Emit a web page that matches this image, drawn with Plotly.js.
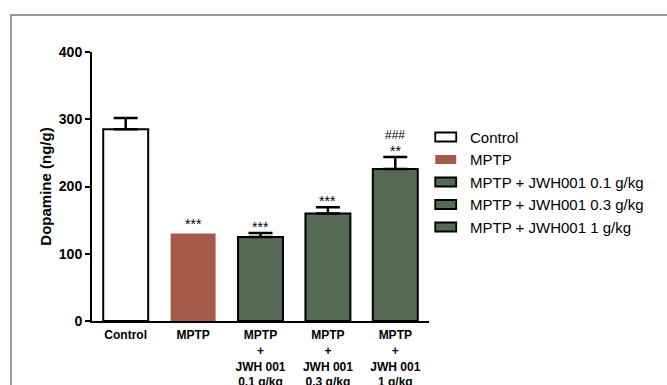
<!DOCTYPE html>
<html>
<head>
<meta charset="utf-8">
<script src="https://cdn.plot.ly/plotly-3.0.1.min.js"></script>
<style>
html,body{margin:0;padding:0;background:#fff;}
#wrap{position:relative;width:667px;height:385px;overflow:hidden;}
#chart{position:absolute;left:0;top:0;width:667px;height:385px;}
#frame{position:absolute;left:10px;top:14px;width:700px;height:400px;border-top:2px solid #9a9a9a;border-left:2px solid #9a9a9a;pointer-events:none;}
</style>
</head>
<body>
<div id="wrap"><div id="chart"></div><div id="frame"></div></div>
<script>
// ---- data ----
const categories = ["Control", "MPTP", "MPTP<br>+<br>JWH 001<br>0.1 g/kg", "MPTP<br>+<br>JWH 001<br>0.3 g/kg", "MPTP<br>+<br>JWH 001<br>1 g/kg"];
const legendNames = ["Control", "MPTP", "MPTP + JWH001 0.1 g/kg", "MPTP + JWH001 0.3 g/kg", "MPTP + JWH001 1 g/kg"];
const dopamine = [285, 130, 125, 160, 226];
const sem = [17, 0, 6, 9, 18];
const sigVsControl = ["", "***", "***", "***", "**"];
const sigVsMPTP = ["", "", "", "", "###"];
const yTicks = [0, 100, 200, 300, 400];

// ---- styles ----
const fills = ["#ffffff", "#a65a48", "#546a55", "#546a55", "#546a55"];
const outlines = [2, 0, 2, 2, 2];

const traces = categories.map((c, i) => ({
  type: "bar",
  x: [c],
  y: [dopamine[i]],
  name: legendNames[i],
  width: 0.667,
  marker: {color: fills[i], line: {color: "#000", width: outlines[i]}},
  error_y: {type: "data", symmetric: false, array: [sem[i]], arrayminus: [0],
            visible: sem[i] > 0, color: "#000", thickness: 2.5, width: 12},
  showlegend: false,
  hoverinfo: "skip"
}));

const annotations = [];
categories.forEach((c, i) => {
  const top = dopamine[i] + sem[i];
  if (sigVsControl[i]) annotations.push({x: c, y: top, xref: "x", yref: "y", text: sigVsControl[i],
    showarrow: false, yanchor: "middle", yshift: sem[i] > 0 ? 6 : 10,
    font: {family: "Liberation Sans, Arial", size: 14, color: "#000"}});
  if (sigVsMPTP[i]) annotations.push({x: c, y: top, xref: "x", yref: "y", text: sigVsMPTP[i],
    showarrow: false, yanchor: "middle", yshift: 22,
    font: {family: "Liberation Sans, Arial", size: 12, color: "#000"}});
});

// custom legend (pixel rows converted to paper coords)
const L = 91.75, W = 337.5, T = 52, H = 269;
const px = v => (v - L) / W;
const py = v => (T + H - v) / H;
const rows = [137, 159.5, 182, 204.5, 227];
const shapes = [];
legendNames.forEach((n, i) => {
  shapes.push({type: "rect", xref: "paper", yref: "paper",
    x0: px(435.5), x1: px(456.5), y0: py(rows[i] - 4.5), y1: py(rows[i] + 4.5),
    fillcolor: fills[i], line: {color: outlines[i] ? "#000" : fills[i], width: outlines[i] ? 1.8 : 0}});
  annotations.push({xref: "paper", yref: "paper", x: px(468), y: py(rows[i]), xanchor: "left", yanchor: "middle",
    text: n, showarrow: false, font: {family: "Liberation Sans, Arial", size: 15, color: "#000"}});
});

const layout = {
  width: 667, height: 385,
  margin: {l: L, r: 667 - L - W, t: T, b: 385 - T - H, pad: 0},
  paper_bgcolor: "rgba(0,0,0,0)", plot_bgcolor: "rgba(0,0,0,0)",
  barmode: "overlay",
  showlegend: false,
  font: {family: "Liberation Sans, Arial", color: "#000"},
  xaxis: {type: "category", categoryarray: categories, range: [-0.5, 4.5],
    showline: true, linecolor: "#000", linewidth: 2, ticks: "", showgrid: false, zeroline: false,
    tickfont: {family: "Liberation Sans, Arial", size: 12, weight: "bold", color: "#000"}, ticklabelstandoff: 2},
  yaxis: {range: [0, 400], tickvals: yTicks, showline: true, linecolor: "#000", linewidth: 2,
    ticks: "outside", ticklen: 5, tickwidth: 2, tickcolor: "#000", showgrid: false, zeroline: false,
    tickfont: {family: "Liberation Sans, Arial", size: 14, weight: "bold", color: "#000"},
    title: {text: "Dopamine (ng/g)", standoff: 4, font: {family: "Liberation Sans, Arial", size: 15, weight: "bold", color: "#000"}}},
  annotations: annotations,
  shapes: shapes
};

Plotly.newPlot("chart", traces, layout, {staticPlot: true, displayModeBar: false});
</script>
</body>
</html>
